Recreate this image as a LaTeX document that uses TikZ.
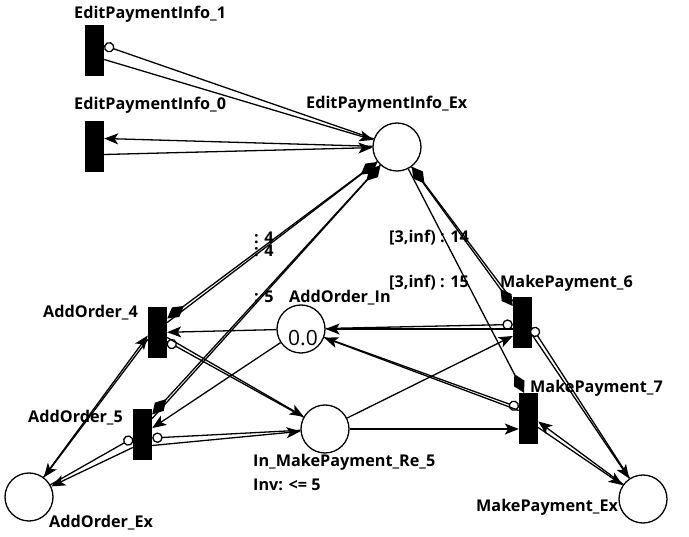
\documentclass[tikz,border=0pt]{standalone}
\usepackage{fontspec}
\setmainfont{Open Sans}
\usetikzlibrary{arrows.meta}

\begin{document}
\begin{tikzpicture}[x=1pt, y=-1pt,
    place/.style={circle, draw, line width=1.3pt, fill=white, minimum size=48pt, inner sep=0pt},
    trans/.style={rectangle, fill=black, minimum width=19pt, minimum height=51pt, inner sep=0pt},
    lbl/.style={font=\bfseries\fontsize{16.2}{19}\selectfont, inner sep=0pt, anchor=base west},
    arc/.style={line width=1.3pt, -{Stealth[length=14pt, width=11pt, inset=3.5pt]}},
    inhib/.style={line width=1.3pt, -{Circle[length=10.5pt, fill=white]}},
    transport/.style={line width=1.3pt, -{Kite[length=21pt, width=12pt, inset=10.5pt]}}]
  \useasboundingbox (0,0) rectangle (689,537);

  % Places
  \node[place] (epiex) at (397,147) {};
  \node[place] (aoin) at (301,329) {};
  \node[place] (reqin) at (325,429) {};
  \node[place] (aoex) at (29,497) {};
  \node[place] (mpex) at (643,499) {};
  \node[font=\fontsize{21}{23}\selectfont, inner sep=0pt] (tok) at (303,338) {0.0};

  % Transitions
  \node[trans] (epi1) at (94.5,50.5) {};
  \node[trans] (epi0) at (94.5,146.5) {};
  \node[trans] (ao4) at (157.5,332.5) {};
  \node[trans] (ao5) at (142.5,434.5) {};
  \node[trans] (mp6) at (522.5,323) {};
  \node[trans] (mp7) at (528.5,418.5) {};

  % Names
  \node[lbl] at (74,18.5) {EditPaymentInfo\_1};
  \node[lbl] at (74,110) {EditPaymentInfo\_0};
  \node[lbl] at (306,108.5) {EditPaymentInfo\_Ex};
  \node[lbl] at (289,303) {AddOrder\_In};
  \node[lbl] at (253,467) {In\_MakePayment\_Re\_5};
  \node[lbl] at (253,490.5) {Inv: <= 5};
  \node[lbl] at (49,528) {AddOrder\_Ex};
  \node[lbl] at (476,512) {MakePayment\_Ex};
  \node[lbl] at (530,393) {MakePayment\_7};
  \node[lbl] at (500,288) {MakePayment\_6};
  \node[lbl] at (43,317.5) {AddOrder\_4};
  \node[lbl] at (28,423) {AddOrder\_5};

  % Arc labels
  \node[lbl] at (254,244) {: 4};
  \node[lbl] at (254,257) {: 4};
  \node[lbl] at (254,303) {: 5};
  \node[lbl] at (389,243) {[3,inf) : 14};
  \node[lbl] at (389,288) {[3,inf) : 15};

  % EditPaymentInfo
  \draw[inhib] (epiex) -- ([yshift=5pt]epi1.east);
  \draw[arc] ([yshift=-9pt]epi1.east) -- (epiex);
  \draw[arc] (epiex) -- ([yshift=8pt]epi0.east);
  \draw[arc] ([yshift=-8pt]epi0.east) -- (epiex);

  % Transport arcs
  \draw[transport] (epiex) -- ([yshift=14pt]ao4.east);
  \draw[transport] ([yshift=10pt]ao4.east) -- (epiex);
  \draw[transport] (epiex) -- ([yshift=20pt]ao5.east);
  \draw[transport] ([yshift=16pt]ao5.east) -- (epiex);
  \draw[transport] (epiex) -- ([yshift=17pt]mp6.west);
  \draw[transport] ([yshift=22pt]mp6.west) -- (epiex);
  \draw[transport] (epiex) -- ([xshift=-4.5pt]mp7.north);

  % AddOrder
  \draw[arc] (aoin) -- (ao4);
  \draw[arc] (aoin) -- (ao5);
  \draw[inhib] (reqin) -- ([yshift=-9pt]ao4.east);
  \draw[arc] ([yshift=-5pt]ao4.east) -- (reqin);
  \draw[inhib] (reqin) -- ([yshift=-3.5pt]ao5.east);
  \draw[arc] ([yshift=-11pt]ao5.east) -- (reqin);
  \draw[inhib] (aoex) -- ([yshift=-3.5pt]ao5.west);
  \draw[arc] ([yshift=-13pt]ao5.west) -- (aoex);
  \draw[arc] (aoex) -- ([yshift=-3pt]ao4.west);
  \draw[arc] ([yshift=-7pt]ao4.west) -- (aoex);

  % MakePayment
  \draw[inhib] (aoin) -- ([yshift=-1.5pt]mp6.west);
  \draw[arc] ([yshift=-6pt]mp6.west) -- (aoin);
  \draw[inhib] (mpex) -- ([yshift=-4.5pt]mp6.east);
  \draw[arc] ([yshift=-12pt]mp6.east) -- (mpex);
  \draw[inhib] (aoin) -- ([yshift=11pt]mp7.west);
  \draw[arc] ([yshift=8pt]mp7.west) -- (aoin);
  \draw[arc] (reqin) -- ([yshift=-13pt]mp6.west);
  \draw[arc] (reqin) -- ([yshift=-10.5pt]mp7.west);
  \draw[arc] (mpex) -- ([yshift=-3pt]mp7.east);
  \draw[arc] ([yshift=-9pt]mp7.east) -- (mpex);
\end{tikzpicture}
\end{document}
